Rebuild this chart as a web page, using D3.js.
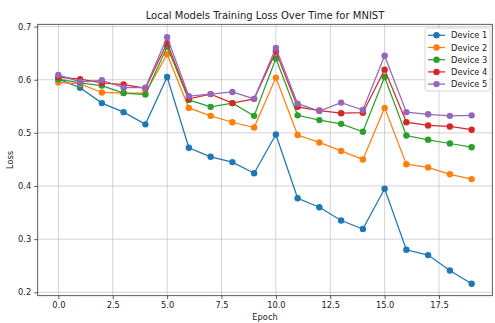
<!DOCTYPE html>
<html>
<head>
<meta charset="utf-8">
<script src="https://cdn.jsdelivr.net/npm/d3@7"></script>
<style>
  body { margin: 0; background: #fff; }
  text { font-family: "DejaVu Sans", sans-serif; fill: #222; }
</style>
</head>
<body>
<div id="chart"></div>
<script>
const epochs = d3.range(0, 20);
const deviceNames = ['Device 1', 'Device 2', 'Device 3', 'Device 4', 'Device 5'];
const colors = ['#1f77b4', '#ff7f0e', '#2ca02c', '#d62728', '#9467bd'];

const device1 = [0.601, 0.585, 0.556, 0.539, 0.516, 0.605, 0.472, 0.455, 0.445, 0.424,
  0.497, 0.377, 0.360, 0.335, 0.319, 0.395, 0.280, 0.270, 0.241, 0.216];
const device2 = [0.595, 0.592, 0.576, 0.575, 0.575, 0.648, 0.547, 0.532, 0.520, 0.510,
  0.604, 0.496, 0.482, 0.466, 0.450, 0.547, 0.441, 0.435, 0.422, 0.413];
const device3 = [0.601, 0.594, 0.589, 0.575, 0.572, 0.662, 0.562, 0.549, 0.556, 0.532,
  0.640, 0.533, 0.524, 0.517, 0.502, 0.605, 0.495, 0.487, 0.480, 0.473];
const device4 = [0.605, 0.601, 0.594, 0.591, 0.584, 0.669, 0.564, 0.573, 0.556, 0.564,
  0.653, 0.549, 0.542, 0.537, 0.538, 0.619, 0.520, 0.514, 0.512, 0.506];
const device5 = [0.609, 0.596, 0.599, 0.585, 0.585, 0.680, 0.569, 0.573, 0.577, 0.564,
  0.660, 0.555, 0.541, 0.557, 0.543, 0.645, 0.539, 0.535, 0.532, 0.533];

const xTicks = [0, 2.5, 5, 7.5, 10, 12.5, 15, 17.5];
const yTicks = [0.2, 0.3, 0.4, 0.5, 0.6, 0.7];

const series = [device1, device2, device3, device4, device5];

const width = 495, height = 323;
const margin = { top: 24.3, right: 2.7, bottom: 27.3, left: 37.7 };

const svg = d3.select('#chart').append('svg')
  .attr('width', width).attr('height', height);

const x = d3.scaleLinear().domain([-0.95, 19.95])
  .range([margin.left, width - margin.right]);
const y = d3.scaleLinear().domain([0.1936, 0.7043])
  .range([height - margin.bottom, margin.top]);

// grid
const grid = svg.append('g');
grid.selectAll('.gx').data(xTicks).enter().append('line')
  .attr('x1', d => x(d)).attr('x2', d => x(d))
  .attr('y1', margin.top).attr('y2', height - margin.bottom)
  .attr('stroke', '#b0b0b0').attr('stroke-opacity', 0.7).attr('stroke-width', 0.8);
grid.selectAll('.gy').data(yTicks).enter().append('line')
  .attr('y1', d => y(d)).attr('y2', d => y(d))
  .attr('x1', margin.left).attr('x2', width - margin.right)
  .attr('stroke', '#b0b0b0').attr('stroke-opacity', 0.7).attr('stroke-width', 0.8);

// axes
const xAxis = svg.append('g')
  .attr('transform', `translate(0,${height - margin.bottom})`)
  .call(d3.axisBottom(x).tickValues(xTicks).tickFormat(d3.format('.1f')).tickSize(3.5).tickPadding(3));
const yAxis = svg.append('g')
  .attr('transform', `translate(${margin.left},0)`)
  .call(d3.axisLeft(y).tickValues(yTicks).tickFormat(d3.format('.1f')).tickSize(3.5).tickPadding(3));
[xAxis, yAxis].forEach(a => {
  a.select('.domain').remove();
  a.selectAll('line').attr('stroke', '#333').attr('stroke-width', 0.8);
  a.selectAll('text').style('font-family', '"DejaVu Sans", sans-serif')
    .style('font-size', '8.3px').attr('fill', '#222');
});

svg.append('rect')
  .attr('x', margin.left).attr('y', margin.top)
  .attr('width', width - margin.left - margin.right)
  .attr('height', height - margin.top - margin.bottom)
  .attr('fill', 'none').attr('stroke', '#333').attr('stroke-width', 0.8);

// lines
const line = d3.line().x((d, i) => x(epochs[i])).y(d => y(d));
series.forEach((s, k) => {
  const g = svg.append('g');
  g.append('path').datum(s).attr('d', line)
    .attr('fill', 'none').attr('stroke', colors[k]).attr('stroke-width', 1.25);
  g.selectAll('circle').data(s).enter().append('circle')
    .attr('cx', (d, i) => x(epochs[i])).attr('cy', d => y(d))
    .attr('r', 3.2).attr('fill', colors[k]);
});

// labels
svg.append('text').attr('x', (margin.left + width - margin.right) / 2).attr('y', 19)
  .attr('text-anchor', 'middle').style('font-size', '10px')
  .text('Local Models Training Loss Over Time for MNIST');
svg.append('text').attr('x', (margin.left + width - margin.right) / 2).attr('y', 319.5)
  .attr('text-anchor', 'middle').style('font-size', '8.3px').text('Epoch');
svg.append('text')
  .attr('transform', `translate(13,${(margin.top + height - margin.bottom) / 2}) rotate(-90)`)
  .attr('text-anchor', 'middle').style('font-size', '8.3px').text('Loss');

// legend
const legend = svg.append('g').attr('transform', 'translate(425,28)');
legend.append('rect').attr('width', 65).attr('height', 63).attr('rx', 2)
  .attr('fill', '#fff').attr('fill-opacity', 0.8)
  .attr('stroke', '#ccc').attr('stroke-width', 0.8);
deviceNames.forEach((name, k) => {
  const row = legend.append('g').attr('transform', `translate(0,${7.3 + k * 12.2})`);
  row.append('line').attr('x1', 3).attr('x2', 20)
    .attr('stroke', colors[k]).attr('stroke-width', 1.25);
  row.append('circle').attr('cx', 11.5).attr('r', 3.2).attr('fill', colors[k]);
  row.append('text').attr('x', 26).attr('y', 3).style('font-size', '8.3px').text(name);
});
</script>
</body>
</html>
